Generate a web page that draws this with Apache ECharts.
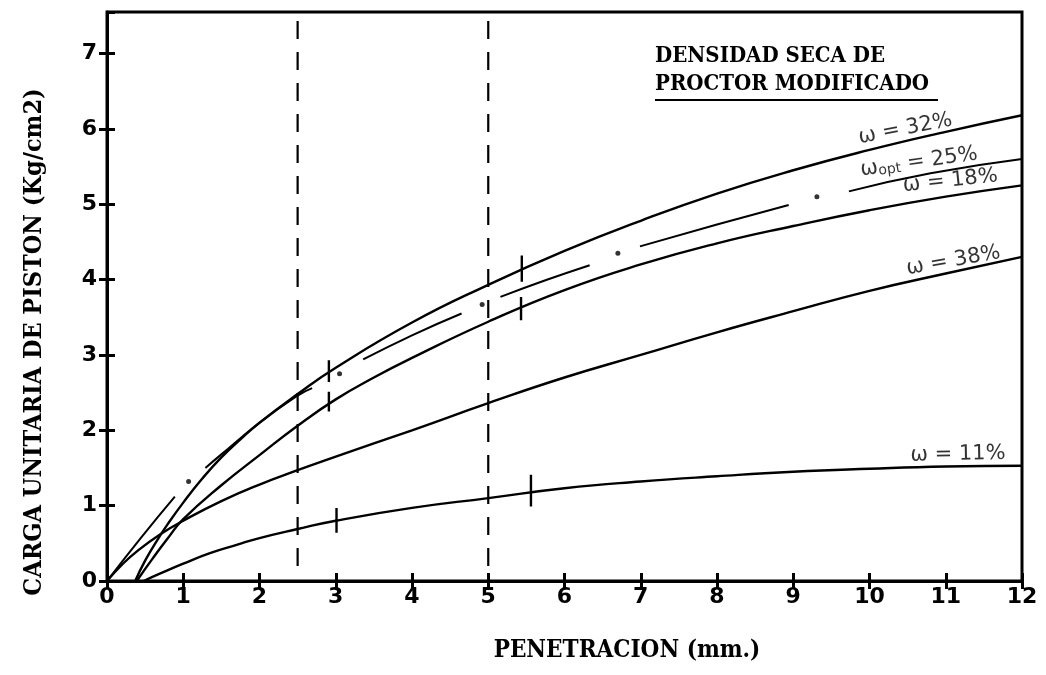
<!DOCTYPE html>
<html>
<head>
<meta charset="utf-8">
<script src="https://cdn.jsdelivr.net/npm/echarts@6/dist/echarts.min.js"></script>
<style>
  html, body { margin: 0; padding: 0; background: #fff; }
  #chart { width: 1046px; height: 675px; }
</style>
</head>
<body>
<div id="chart"></div>
<script>
// Penetration (mm) vs unit piston load (kg/cm2) for several moisture contents
const xTicks = [0, 1, 2, 3, 4, 5, 6, 7, 8, 9, 10, 11, 12];
const yTicks = [0, 1, 2, 3, 4, 5, 6, 7];

const curve32 = [[0.37,0],[0.5,0.27],[0.67,0.56],[0.8,0.76],[1,1.04],[1.25,1.36],[1.5,1.64],[1.75,1.88],[2,2.1],[2.5,2.48],[3,2.83],[4,3.43],[5,3.93],[6,4.38],[7,4.78],[8,5.14],[9,5.45],[10,5.72],[11,5.96],[12,6.18]];
const curve18 = [[0.39,0],[0.6,0.3],[0.8,0.57],[1,0.82],[1.5,1.27],[2,1.67],[2.5,2.06],[3,2.41],[3.5,2.7],[4,2.96],[5,3.44],[6,3.86],[7,4.2],[8,4.48],[9,4.71],[10,4.92],[11,5.1],[12,5.25]];
const curve38 = [[0,0],[0.2,0.22],[0.4,0.4],[0.7,0.62],[1,0.8],[1.5,1.06],[2,1.28],[2.5,1.47],[3,1.65],[4,2.0],[5,2.36],[6,2.7],[7,3.0],[8,3.3],[9,3.58],[10,3.85],[11,4.08],[12,4.3]];
const curve11 = [[0.48,0],[0.7,0.1],[1,0.23],[1.35,0.37],[1.7,0.48],[2,0.57],[2.5,0.69],[3,0.8],[4,0.97],[5,1.1],[6,1.23],[7,1.32],[8,1.39],[9,1.45],[10,1.49],[11,1.52],[12,1.53]];

// optimum moisture curve, drawn as dash-dot: dashes and dots
const opt25Dashes = [
  [[0,0],[0.45,0.58],[0.89,1.12]],
  [[1.29,1.5],[1.5,1.68],[2,2.1],[2.5,2.46],[2.69,2.56]],
  [[3.36,2.94],[4,3.26],[4.65,3.55]],
  [[5.16,3.77],[5.75,3.99],[6.33,4.19]],
  [[6.99,4.44],[8,4.73],[8.94,4.99]],
  [[9.73,5.17],[10.8,5.41],[12,5.6]]
];
const opt25Dots = [[1.07,1.32],[3.05,2.75],[4.92,3.67],[6.7,4.35],[9.31,5.1]];

// reading marks across the curves: [x, yFrom, yTo]
const readMarks = [[2.91,2.64,2.93],[2.91,2.25,2.51],[3.01,0.64,0.97],[5.44,3.97,4.32],[5.43,3.46,3.77],[5.56,0.99,1.41]];

// standard penetrations
const refPenetrations = [2.5, 5];

const curveLabels = [
  { name: 'w32', text: 'ω = 32%', at: [10.47, 6.0] },
  { name: 'w25', text: '{w|ω}{s|opt}{w| = 25%}', at: [10.65, 5.56] },
  { name: 'w18', text: 'ω = 18%', at: [11.06, 5.31] },
  { name: 'w38', text: 'ω = 38%', at: [11.1, 4.25] },
  { name: 'w11', text: 'ω = 11%', at: [11.16, 1.68] }
];
const labelTilt = { w32: 11, w25: 8, w18: 6, w38: 10, w11: 1 };

const black = '#000';
const tickFont = 'DejaVu Sans';
const titleFont = '"DejaVu Serif Condensed", "DejaVu Serif", "Liberation Serif", serif';
const handFont = 'DejaVu Sans';

function curveSeries(data, width) {
  return {
    type: 'line', data: data, smooth: 0.5,
    symbol: 'none', silent: true,
    lineStyle: { color: black, width: width || 2.4 }
  };
}

const series = [];
[curve32, curve18, curve38, curve11].forEach(c => series.push(curveSeries(c)));
opt25Dashes.forEach(seg => series.push(curveSeries(seg, 2)));
series.push({
  type: 'scatter', data: opt25Dots, symbol: 'circle', symbolSize: 5,
  itemStyle: { color: black }, silent: true
});
readMarks.forEach(m => series.push({
  type: 'line', data: [[m[0], m[1]], [m[0], m[2]]], symbol: 'none', silent: true,
  lineStyle: { color: black, width: 2.4 }
}));
refPenetrations.forEach(p => series.push({
  type: 'line', data: [[p, 0.2], [p, 7.55]], symbol: 'none', silent: true,
  lineStyle: { color: black, width: 2.2, type: [18, 13] }
}));
series.push({
  type: 'scatter', symbolSize: 0, silent: true,
  data: curveLabels.map(l => ({ name: l.name, value: l.at, label: { rotate: labelTilt[l.name], formatter: l.text } })),
  label: {
    show: true, position: 'inside', color: black,
    fontFamily: handFont, fontSize: 21,
    rich: {
      w: { fontFamily: handFont, fontSize: 21, color: black },
      s: { fontFamily: handFont, fontSize: 14, color: black, padding: [7, 0, 0, 0] }
    }
  }
});

function axisPair(kind, ticks, max) {
  const base = {
    type: 'value', min: 0, max: max, interval: 1,
    splitLine: { show: false }
  };
  const main = Object.assign({}, base, {
    axisLine: { show: true, lineStyle: { color: black, width: 3 } },
    axisTick: { show: true, length: 8, lineStyle: { color: black, width: 3 } },
    axisLabel: {
      show: true, color: black, fontFamily: tickFont, fontWeight: 'bold', fontSize: 22,
      margin: kind === 'x' ? 5 : 10, showMaxLabel: kind === 'x',
      formatter: v => (ticks.indexOf(v) >= 0 ? String(v) : '')
    }
  });
  const inner = Object.assign({}, base, {
    axisLine: { show: false },
    axisTick: { show: true, inside: true, length: 8, lineStyle: { color: black, width: 3 } },
    axisLabel: { show: false }
  });
  main.position = inner.position = (kind === 'x' ? 'bottom' : 'left');
  return [main, inner];
}

const chart = echarts.init(document.getElementById('chart'), null, { renderer: 'canvas' });
chart.setOption({
  backgroundColor: '#fff',
  animation: false,
  grid: { left: 107, right: 24, top: 12, bottom: 94, show: true, borderColor: black, borderWidth: 3, backgroundColor: 'transparent' },
  xAxis: axisPair('x', xTicks, 12),
  yAxis: axisPair('y', yTicks, 7.55),
  series: series,
  graphic: [
    { type: 'text', left: 655, top: 45, style: { text: 'DENSIDAD SECA DE', font: 'bold 22px ' + titleFont, fill: black } },
    { type: 'text', left: 655, top: 73, style: { text: 'PROCTOR MODIFICADO', font: 'bold 22px ' + titleFont, fill: black } },
    { type: 'line', shape: { x1: 655, y1: 100, x2: 938, y2: 100 }, style: { stroke: black, lineWidth: 2 } },
    { type: 'text', x: 627, y: 651, style: { text: 'PENETRACION (mm.)', font: 'bold 24px ' + titleFont, fill: black, align: 'center', verticalAlign: 'middle' } },
    { type: 'text', x: 34, y: 342, rotation: Math.PI / 2, style: { text: 'CARGA UNITARIA DE PISTON (Kg/cm2)', font: 'bold 25px ' + titleFont, fill: black, align: 'center', verticalAlign: 'middle' } }
  ]
});
</script>
</body>
</html>
